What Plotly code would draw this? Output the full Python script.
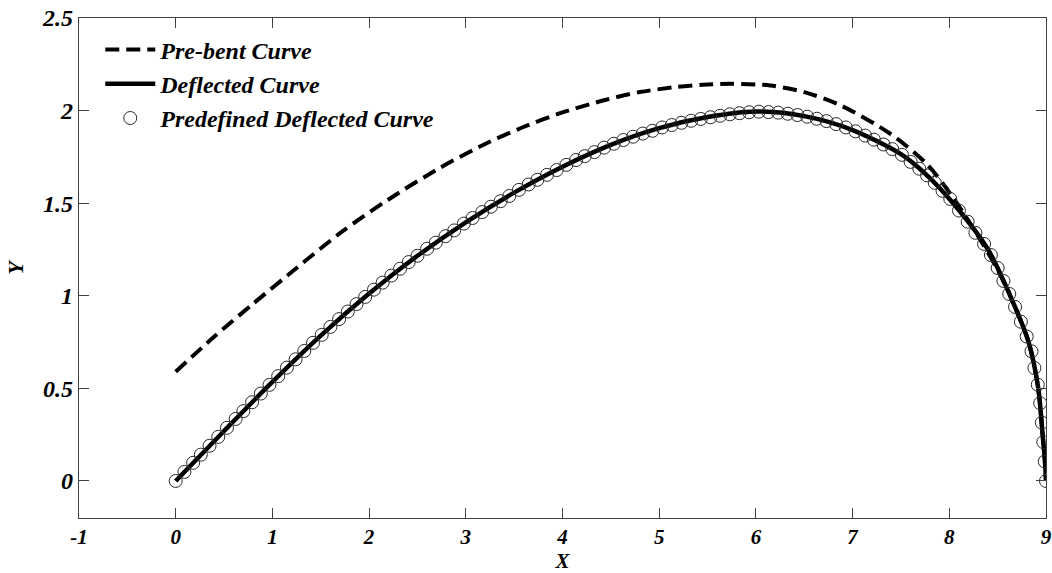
import plotly.graph_objects as go

# Pre-bent curve (dashed)
pre_x = [0.0, 0.4, 0.8, 1.25, 1.73, 2.2, 2.73, 3.2, 3.59, 4.0, 4.46, 4.8, 5.14, 5.45, 5.76, 6.15, 6.5, 6.87,
         7.39, 7.77, 8.04, 8.3, 8.5, 8.63, 8.82, 8.92, 8.965, 8.99, 9.0]
pre_y = [0.59, 0.78, 0.957, 1.15, 1.35, 1.52, 1.69, 1.82, 1.91, 1.99, 2.06, 2.10, 2.125, 2.14, 2.145, 2.135, 2.10, 2.03,
         1.875, 1.71, 1.53, 1.32, 1.14, 1.0, 0.75, 0.5, 0.25, 0.1, 0.0]

# Deflected curve (solid)
def_x = [0.0, 0.5, 1.0, 1.5, 2.0, 2.5, 3.0, 3.5, 4.0, 4.5, 5.0, 5.5, 6.0, 6.5, 7.0, 7.5, 7.75,
         8.04, 8.4, 8.63, 8.82, 8.92, 8.965, 8.99, 9.0]
def_y = [0.0, 0.27, 0.535, 0.785, 1.012, 1.216, 1.397, 1.557, 1.697, 1.815, 1.905, 1.965, 1.995, 1.97,
         1.895, 1.765, 1.66, 1.5, 1.25, 1.0, 0.75, 0.5, 0.25, 0.1, 0.0]

# Predefined deflected curve (markers)
pts_x = [0.00, 0.09, 0.18, 0.26, 0.35, 0.44, 0.53, 0.62, 0.70, 0.79, 0.88, 0.97,
         1.06, 1.15, 1.24, 1.33, 1.42, 1.51, 1.60, 1.69, 1.78, 1.87, 1.96,
         2.05, 2.14, 2.23, 2.32, 2.41, 2.50, 2.60, 2.69, 2.79, 2.88, 2.98,
         3.07, 3.17, 3.26, 3.36, 3.45, 3.55, 3.65, 3.74, 3.84, 3.94,
         4.04, 4.14, 4.23, 4.33, 4.43, 4.53, 4.63, 4.73, 4.83, 4.93,
         5.03, 5.13, 5.23, 5.33, 5.43, 5.53, 5.63, 5.73, 5.83, 5.93, 6.03,
         6.13, 6.23, 6.33, 6.43, 6.53, 6.63, 6.73, 6.83, 6.93, 7.03, 7.13, 7.22, 7.32, 7.41,
         7.51, 7.60, 7.69, 7.77, 7.85, 7.93, 8.01,
         8.10, 8.19, 8.27, 8.36, 8.43, 8.50, 8.56, 8.62, 8.68, 8.74, 8.80, 8.85, 8.88,
         8.915, 8.94, 8.957, 8.972, 8.987, 9.0]
pts_y = [0.000, 0.049, 0.098, 0.142, 0.190, 0.238, 0.287, 0.335, 0.377, 0.425, 0.472, 0.519,
         0.566, 0.612, 0.657, 0.702, 0.746, 0.789, 0.832, 0.874, 0.915, 0.955, 0.994,
         1.033, 1.071, 1.109, 1.146, 1.182, 1.216, 1.254, 1.287, 1.322, 1.353, 1.390,
         1.420, 1.452, 1.481, 1.511, 1.539, 1.572, 1.601, 1.626, 1.653, 1.679,
         1.707, 1.733, 1.754, 1.776, 1.800, 1.821, 1.841, 1.859, 1.876, 1.891,
         1.909, 1.922, 1.934, 1.945, 1.955, 1.964, 1.972, 1.980, 1.986, 1.991, 1.994,
         1.992, 1.989, 1.983, 1.976, 1.967, 1.956, 1.943, 1.927, 1.909, 1.888, 1.865, 1.843, 1.817, 1.792,
         1.761, 1.723, 1.686, 1.650, 1.610, 1.567, 1.523,
         1.46, 1.40, 1.34, 1.28, 1.22, 1.15, 1.08, 1.01, 0.94, 0.86, 0.78, 0.70, 0.61,
         0.52, 0.42, 0.315, 0.21, 0.105, 0.0]

x_ticks = [-1, 0, 1, 2, 3, 4, 5, 6, 7, 8, 9]
x_tick_labels = ["-1", "0", "1", "2", "3", "4", "5", "6", "7", "8", "9"]
y_ticks = [0, 0.5, 1, 1.5, 2, 2.5]
y_tick_labels = ["0", "0.5", "1", "1.5", "2", "2.5"]

FONT = "Liberation Serif"


def bi(size):
    return dict(family=FONT, size=size, color="black", weight="bold", style="italic")


fig = go.Figure()
fig.add_trace(go.Scatter(x=pre_x, y=pre_y, mode="lines", name="Pre-bent Curve",
                         legendgroup="a",
                         line=dict(color="black", width=4, dash="14px,7px", shape="spline", smoothing=0.8)))
fig.add_trace(go.Scatter(x=def_x, y=def_y, mode="lines", name="Deflected Curve",
                         legendgroup="b",
                         line=dict(color="black", width=4.5, shape="spline", smoothing=0.8)))
fig.add_trace(go.Scatter(x=pts_x, y=pts_y, mode="markers", name="Predefined Deflected Curve",
                         legendgroup="c",
                         marker=dict(symbol="circle-open", size=13, color="#2a2a2a", line=dict(width=1))))

axis_common = dict(showline=True, linecolor="#404040", linewidth=1.2, mirror="ticks",
                   ticks="inside", ticklen=10, tickwidth=1.2, tickcolor="#404040",
                   showgrid=False, zeroline=False, automargin=False)

fig.update_layout(
    width=1052, height=573,
    margin=dict(l=79, r=6, t=18, b=55),
    paper_bgcolor="white", plot_bgcolor="white",
    xaxis=dict(range=[-1, 9], tickvals=x_ticks, ticktext=x_tick_labels, tickfont=bi(21),
               ticklabelstandoff=0,
               title=dict(text="X", font=bi(21), standoff=4),
               **axis_common),
    yaxis=dict(range=[-0.2, 2.5], tickvals=y_ticks, ticktext=y_tick_labels, tickfont=bi(24),
               title=dict(text="Y", font=bi(22), standoff=12),
               **axis_common),
    legend=dict(x=0.022, y=0.981, xanchor="left", yanchor="top", bgcolor="rgba(0,0,0,0)",
                font=bi(24), itemwidth=50, tracegroupgap=0),
    showlegend=True,
)

fig.write_html("out.html")
